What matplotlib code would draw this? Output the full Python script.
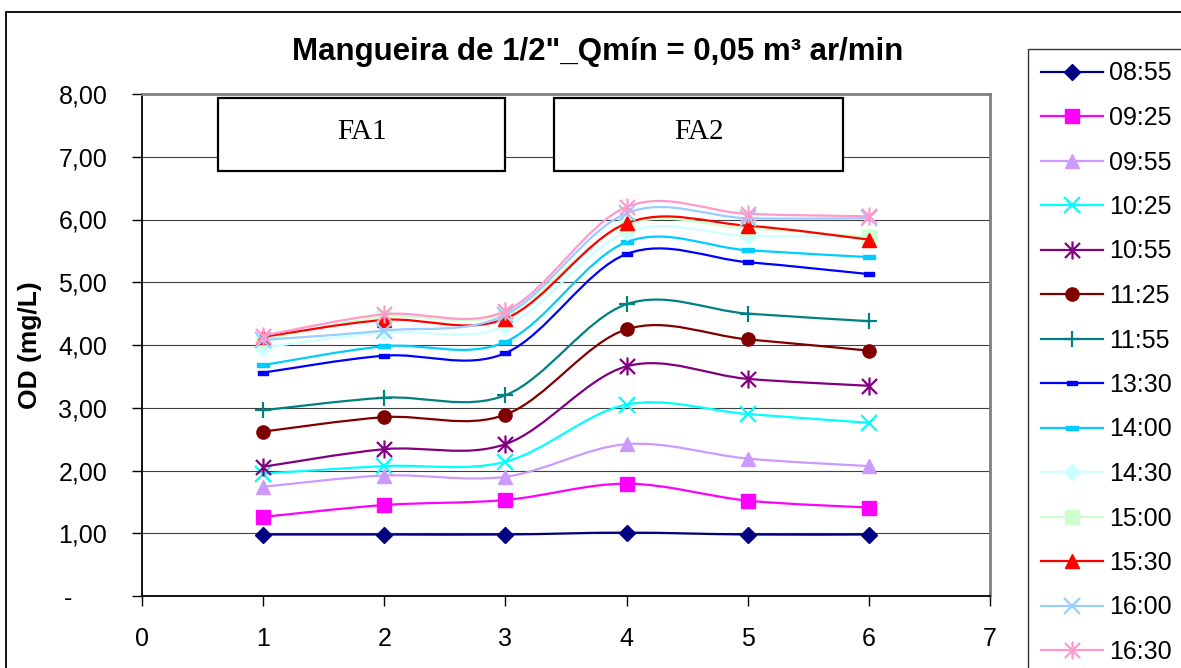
import numpy as np
import matplotlib

matplotlib.use("Agg")
import matplotlib.pyplot as plt
from matplotlib.lines import Line2D
from matplotlib.patches import PathPatch, Rectangle
from matplotlib.path import Path
from matplotlib.ticker import FuncFormatter, MultipleLocator

# ---- data ----
points = [1, 2, 3, 4, 5, 6]
times = ["08:55", "09:25", "09:55", "10:25", "10:55", "11:25", "11:55",
         "13:30", "14:00", "14:30", "15:00", "15:30", "16:00", "16:30"]

od_0855 = [0.98, 0.98, 0.98, 1.01, 0.98, 0.98]
od_0925 = [1.26, 1.45, 1.53, 1.79, 1.52, 1.41]
od_0955 = [1.74, 1.92, 1.90, 2.42, 2.19, 2.07]
od_1025 = [1.95, 2.07, 2.14, 3.05, 2.90, 2.76]
od_1055 = [2.06, 2.34, 2.42, 3.66, 3.46, 3.35]
od_1125 = [2.62, 2.85, 2.89, 4.25, 4.09, 3.91]
od_1155 = [2.96, 3.16, 3.20, 4.65, 4.50, 4.38]
od_1330 = [3.56, 3.83, 3.87, 5.45, 5.32, 5.13]
od_1400 = [3.68, 3.98, 4.05, 5.64, 5.51, 5.40]
od_1430 = [3.96, 4.20, 4.30, 5.80, 5.74, 5.73]
od_1500 = [4.08, 4.45, 4.50, 5.92, 5.86, 5.72]
od_1530 = [4.13, 4.40, 4.42, 5.94, 5.90, 5.68]
od_1600 = [4.08, 4.23, 4.48, 6.10, 6.02, 6.02]
od_1630 = [4.15, 4.49, 4.54, 6.20, 6.09, 6.05]

series = [od_0855, od_0925, od_0955, od_1025, od_1055, od_1125, od_1155,
          od_1330, od_1400, od_1430, od_1500, od_1530, od_1600, od_1630]

colors = ["#000080", "#FF00FF", "#CC99FF", "#00FFFF", "#800080", "#800000",
          "#008080", "#0000FF", "#00CCFF", "#CCFFFF", "#CCFFCC", "#FF0000",
          "#99CCFF", "#FF99CC"]

# excel style markers
asterisk = Path([(-1, -1), (1, 1), (-1, 1), (1, -1), (0, -1.2), (0, 1.2)],
                [Path.MOVETO, Path.LINETO] * 3)
short_dash = Path([(-1, -0.35), (1, -0.35), (1, 0.35), (-1, 0.35), (-1, -0.35)],
                  [Path.MOVETO, Path.LINETO, Path.LINETO, Path.LINETO, Path.CLOSEPOLY])
markers = ["D", "s", "^", "x", asterisk, "o", "+",
           short_dash, short_dash, "D", "s", "^", "x", asterisk]
msizes = [8, 9.5, 10.5, 11, 13, 9.5, 12, 6.5, 9, 8, 9.5, 10.5, 11, 13]

W, H = 1181, 668


def smooth_path(xs, ys):
    # excel-like smoothed line: catmull-rom drawn as cubic bezier segments
    pts = np.column_stack([xs, ys]).astype(float)
    n = len(pts)
    verts = [pts[0]]
    codes = [Path.MOVETO]
    for i in range(n - 1):
        p0 = pts[i - 1] if i > 0 else pts[i]
        p1 = pts[i]
        p2 = pts[i + 1]
        p3 = pts[i + 2] if i + 2 < n else pts[i + 1]
        verts += [p1 + (p2 - p0) / 6, p2 - (p3 - p1) / 6, p2]
        codes += [Path.CURVE4] * 3
    return Path(verts, codes)


def y_fmt(v, _):
    if abs(v) < 1e-9:
        return "-     "
    return f"{v:.2f}".replace(".", ",")


plt.rcParams["font.family"] = ["Liberation Sans", "DejaVu Sans"]

fig = plt.figure(figsize=(W / 100, H / 100), dpi=100)
ax = fig.add_axes([142 / W, (H - 596) / H, (990 - 142) / W, (596 - 94) / H])

handles = []
for i, (vals, lab) in enumerate(zip(series, times)):
    col = colors[i]
    patch = PathPatch(smooth_path(points, vals), facecolor="none", edgecolor=col,
                      lw=1.6, zorder=3 + i, capstyle="round", joinstyle="round")
    ax.add_patch(patch)
    mew = 1.6 if markers[i] in ("x", "+") or markers[i] is asterisk else 1.0
    ax.plot(points, vals, ls="none", marker=markers[i], ms=msizes[i], color=col,
            mfc=col, mec=col, mew=mew, zorder=3 + i + 0.5)
    handles.append(Line2D([], [], color=col, lw=1.6, marker=markers[i],
                          ms=msizes[i], mfc=col, mec=col, mew=mew, label=lab))

ax.set_xlim(0, 7)
ax.set_ylim(0, 8)
ax.xaxis.set_major_locator(MultipleLocator(1))
ax.yaxis.set_major_locator(MultipleLocator(1))
ax.yaxis.set_major_formatter(FuncFormatter(y_fmt))
ax.tick_params(axis="both", direction="out", labelsize=18, color="black", width=1)
ax.tick_params(axis="y", length=7, pad=18)
ax.tick_params(axis="x", length=7, pad=15)

for yv in range(1, 8):
    ax.axhline(yv, color="#404040", lw=0.8, zorder=1)

ax.spines["left"].set_color("black")
ax.spines["left"].set_linewidth(1.3)
ax.spines["bottom"].set_color("black")
ax.spines["bottom"].set_linewidth(1.3)
ax.spines["top"].set_color("#808080")
ax.spines["top"].set_linewidth(2)
ax.spines["right"].set_color("#808080")
ax.spines["right"].set_linewidth(2)

# FA1 / FA2 annotation boxes
for x0, x1, lab in [(0.63, 3.0, "FA1"), (3.40, 5.79, "FA2")]:
    ax.add_patch(Rectangle((x0, 6.77), x1 - x0, 1.17, facecolor="white",
                           edgecolor="black", lw=1.6, zorder=20))
    ax.text((x0 + x1) / 2, 7.40, lab, ha="center", va="center", fontsize=21,
            family=["Liberation Serif", "DejaVu Serif"], zorder=21)

fig.text(598 / W, 1 - 52 / H, "Mangueira de 1/2\"_Qmín = 0,05 m³ ar/min",
         ha="center", va="center", fontsize=22.5, fontweight="bold")
fig.text(30 / W, 1 - 345 / H, "OD (mg/L)", rotation=90, ha="center", va="center",
         fontsize=19, fontweight="bold")

# outer chart border
fig.add_artist(Rectangle((6 / W, -0.05), 1.2, 1 - 12 / H + 0.05,
                         transform=fig.transFigure, facecolor="none",
                         edgecolor="black", lw=1.3))

leg = fig.legend(handles=handles, loc="upper left",
                 bbox_to_anchor=(1028 / W, 1 - 49 / H), fontsize=18,
                 frameon=True, fancybox=False, edgecolor="black",
                 handlelength=2.5, handletextpad=0.25, labelspacing=0.82,
                 borderpad=0.5, borderaxespad=0)
leg.get_frame().set_linewidth(1.0)

fig.savefig("out.png", dpi=100)
